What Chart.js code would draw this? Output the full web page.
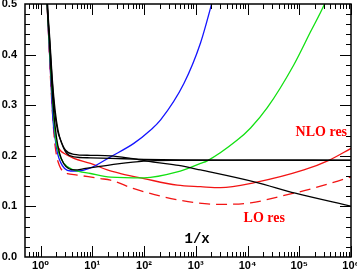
<!DOCTYPE html>
<html><head><meta charset="utf-8">
<script src="https://cdn.jsdelivr.net/npm/chart.js@4"></script>
<style>html,body{margin:0;padding:0;background:#fff;overflow:hidden}</style>
</head><body>
<canvas id="c" width="357" height="271" style="width:357px;height:271px;display:block"></canvas>
<script>
// ---- tick labels ----
const xTickValues = [1, 10, 100, 1000, 10000, 100000, 1000000];
const xTickLabels = ['10⁰', '10¹', '10²', '10³', '10⁴', '10⁵', '10⁶'];
const yTickValues = [0, 0.1, 0.2, 0.3, 0.4, 0.5];
const yTickLabels = ['0.0', '0.1', '0.2', '0.3', '0.4', '0.5'];

// ---- series (x = 1/x axis value, y = value) ----
const black1X = [1.30, 1.35, 1.49, 1.67, 1.86, 2.13, 2.44, 3.04, 4.40, 9.25, 22.5, 55, 167, 465, 1237, 14100, 83700, 1000000];
const black1Y = [0.56, 0.5, 0.43, 0.35, 0.29, 0.25, 0.231, 0.211, 0.203, 0.201, 0.200, 0.195, 0.187, 0.181, 0.172, 0.148, 0.126, 0.1004];

const black2X = [1.31, 1.365, 1.51, 1.69, 1.91, 2.18, 2.55, 3.18, 4.40, 9.25, 22.5, 99, 508, 11450, 1000000];
const black2Y = [0.56, 0.5, 0.43, 0.35, 0.29, 0.25, 0.225, 0.205, 0.198, 0.196, 0.195, 0.193, 0.192, 0.1915, 0.191];

const black3X = [1.28, 1.34, 1.48, 1.63, 1.82, 2.04, 2.33, 2.78, 3.48, 4.54, 7.41, 22.5, 99, 508, 11450, 1000000];
const black3Y = [0.56, 0.5, 0.43, 0.35, 0.28, 0.235, 0.205, 0.185, 0.175, 0.172, 0.175, 0.182, 0.1895, 0.191, 0.1915, 0.1915];

const greenX = [1.28, 1.34, 1.46, 1.61, 1.78, 1.95, 2.26, 2.82, 4.40, 9.25, 22.5, 99, 439, 1237, 1667, 6340, 11450, 24100, 78700, 165000, 308000, 368000];
const greenY = [0.56, 0.5, 0.43, 0.35, 0.28, 0.235, 0.205, 0.185, 0.172, 0.165, 0.158, 0.1565, 0.168, 0.185, 0.190, 0.231, 0.255, 0.295, 0.380, 0.445, 0.5, 0.52];

const blueX = [1.28, 1.34, 1.46, 1.60, 1.74, 1.91, 2.13, 2.44, 2.91, 3.80, 5.42, 9.25, 22.5, 63.4, 134, 209, 589, 1233, 2020, 2400];
const blueY = [0.56, 0.5, 0.42, 0.34, 0.27, 0.235, 0.205, 0.187, 0.175, 0.170, 0.170, 0.176, 0.198, 0.2245, 0.251, 0.271, 0.343, 0.423, 0.5, 0.53];

const nloX = [1.28, 1.34, 1.45, 1.58, 1.74, 1.86, 2.10, 2.44, 2.82, 4.40, 9.25, 19.5, 35.2, 99, 439, 1237, 3010, 13700, 122700, 373000, 1000000];
const nloY = [0.56, 0.5, 0.43, 0.35, 0.28, 0.245, 0.221, 0.210, 0.205, 0.195, 0.185, 0.172, 0.165, 0.155, 0.142, 0.139, 0.137, 0.147, 0.172, 0.191, 0.2146];

const loX = [1.28, 1.34, 1.44, 1.56, 1.71, 1.86, 2.04, 2.33, 2.78, 3.28, 5.12, 14.4, 22.5, 63.6, 508, 2760, 11450, 39800, 173000, 1000000];
const loY = [0.56, 0.5, 0.43, 0.35, 0.28, 0.23, 0.20, 0.18, 0.168, 0.165, 0.162, 0.155, 0.152, 0.135, 0.112, 0.104, 0.107, 0.119, 0.135, 0.158];

const pts = (xs, ys) => xs.map((x, i) => ({ x: x, y: ys[i] }));

const line = (label, xs, ys, color, dash) => ({
  label: label,
  data: pts(xs, ys),
  borderColor: color,
  borderWidth: 1.3,
  borderDash: dash || [],
  pointRadius: 0,
  fill: false,
  cubicInterpolationMode: 'monotone',
  clip: 0
});

const notes = [
  { text: 'NLO res', x: 85000, y: 0.239, color: '#ff0000', font: 'bold 14px "Liberation Serif"' },
  { text: 'LO res', x: 8390, y: 0.0687, color: '#ff0000', font: 'bold 14px "Liberation Serif"' },
  { text: '1/x', x: 607, y: 0.027, color: '#000000', font: 'bold 14px "Liberation Mono"' }
];

const frameTicks = {
  id: 'frameTicks',
  afterDatasetsDraw(chart) {
    const { ctx, chartArea: a, scales } = chart;
    const xs = scales.x, ys = scales.y;
    ctx.save();
    ctx.strokeStyle = '#000';
    ctx.lineWidth = 1;
    ctx.beginPath();
    for (let e = -1; e <= 6; e++) {
      for (let k = 1; k <= 9; k++) {
        const v = k * Math.pow(10, e);
        if (v <= 0.5 || v > 1000000) continue;
        const px = Math.round(xs.getPixelForValue(v)) + 0.5;
        const L = k === 1 ? 11 : 5;
        ctx.moveTo(px, a.bottom); ctx.lineTo(px, a.bottom - L);
        ctx.moveTo(px, a.top); ctx.lineTo(px, a.top + L);
      }
    }
    for (let i = 1; i < 25; i++) {
      const v = i * 0.02;
      const py = Math.round(ys.getPixelForValue(v)) + 0.5;
      const L = i % 5 === 0 ? 11 : 5;
      ctx.moveTo(a.left, py); ctx.lineTo(a.left + L, py);
      ctx.moveTo(a.right, py); ctx.lineTo(a.right - L, py);
    }
    ctx.stroke();
    ctx.lineWidth = 1.5;
    ctx.strokeRect(a.left, a.top, a.right - a.left, a.bottom - a.top);
    ctx.textBaseline = 'alphabetic';
    ctx.textAlign = 'left';
    notes.forEach(n => {
      ctx.fillStyle = n.color;
      ctx.font = n.font;
      ctx.fillText(n.text, xs.getPixelForValue(n.x), ys.getPixelForValue(n.y));
    });
    ctx.restore();
  }
};

const tickFont = { family: '"Liberation Sans", "DejaVu Sans", sans-serif', weight: 'bold', size: 11 };

new Chart(document.getElementById('c'), {
  type: 'line',
  data: {
    datasets: [
      line('black 1', black1X, black1Y, '#000000'),
      line('black 2', black2X, black2Y, '#000000'),
      line('black 3', black3X, black3Y, '#000000'),
      line('green', greenX, greenY, '#12e012'),
      line('blue', blueX, blueY, '#1414ff'),
      line('NLO res', nloX, nloY, '#f21414'),
      line('LO res', loX, loY, '#f21414', [11, 6])
    ]
  },
  options: {
    responsive: false,
    animation: false,
    devicePixelRatio: 1,
    events: [],
    layout: { padding: { top: 4, right: 6, left: 0, bottom: 0 } },
    plugins: { legend: { display: false }, tooltip: { enabled: false } },
    scales: {
      x: {
        type: 'logarithmic',
        min: 0.5,
        max: 1000000,
        grid: { display: false, drawTicks: false },
        border: { display: false },
        afterBuildTicks: s => { s.ticks = xTickValues.map(v => ({ value: v })); },
        afterFit: s => { s.height = 14; s.paddingLeft = 0; s.paddingRight = 0; },
        ticks: {
          autoSkip: false, maxRotation: 0, padding: 2, color: '#000', font: tickFont,
          callback: v => { const i = xTickValues.indexOf(v); return i >= 0 ? xTickLabels[i] : ''; }
        }
      },
      y: {
        type: 'linear',
        min: 0,
        max: 0.5,
        grid: { display: false, drawTicks: false },
        border: { display: false },
        afterBuildTicks: s => { s.ticks = yTickValues.map(v => ({ value: v })); },
        afterFit: s => { s.width = 25; s.paddingTop = 0; s.paddingBottom = 0; },
        ticks: {
          autoSkip: false, padding: 8, color: '#000', font: tickFont,
          callback: v => { const i = yTickValues.findIndex(t => Math.abs(t - v) < 1e-9); return i >= 0 ? yTickLabels[i] : ''; }
        }
      }
    }
  },
  plugins: [frameTicks]
});
</script>
</body></html>
